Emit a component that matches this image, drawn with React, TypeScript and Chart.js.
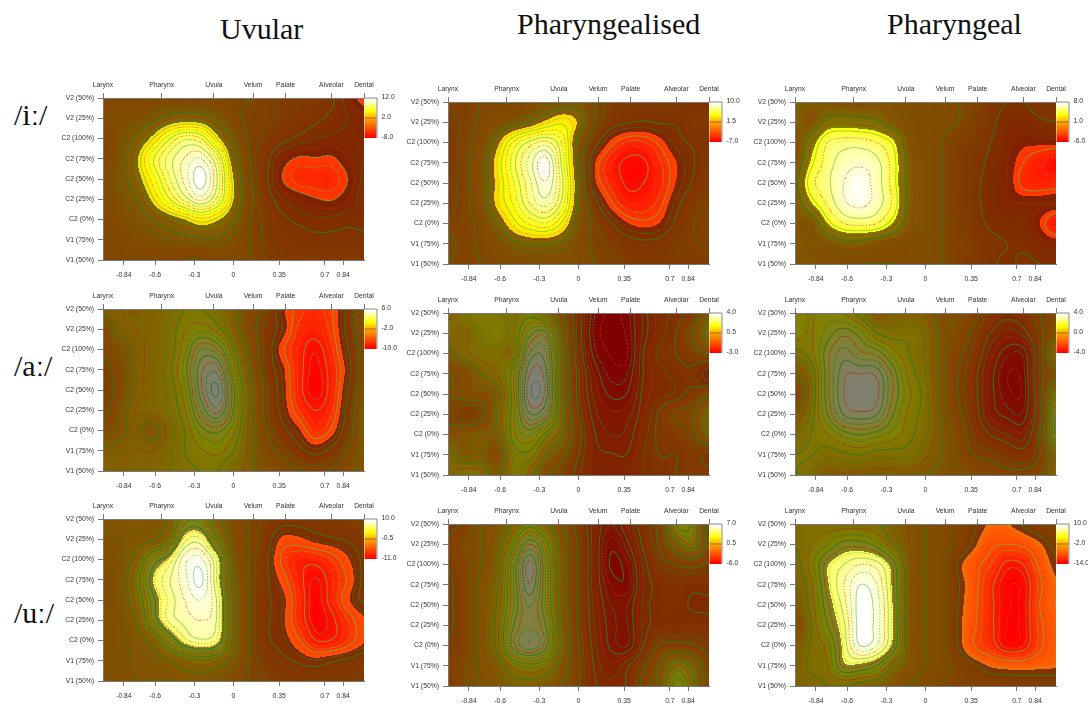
import React, { useEffect, useRef } from "react";
import { Chart, registerables } from "chart.js";

Chart.register(...registerables);

const xGrid = [-1, -0.875, -0.75, -0.625, -0.5, -0.375, -0.25, -0.125, 0, 0.125, 0.25, 0.375, 0.5, 0.625, 0.75, 0.875, 1];
const yGrid = [8, 7, 6, 5, 4, 3, 2, 1, 0];
const xTicks = [-0.84, -0.6, -0.3, 0, 0.35, 0.7, 0.84];
const topLabels = ["Larynx", "Pharynx", "Uvula", "Velum", "Palate", "Alveolar", "Dental"];
const topPositions = [-1, -0.55, -0.15, 0.15, 0.4, 0.75, 1];
const yLabels = ["V1 (50%)", "V1 (75%)", "C2 (0%)", "C2 (25%)", "C2 (50%)", "C2 (75%)", "C2 (100%)", "V2 (25%)", "V2 (50%)"];
const columnTitles = ["Uvular", "Pharyngealised", "Pharyngeal"];
const rowTitles = ["/iː/", "/aː/", "/uː/"];

const iUvular = [
  [0.5, 0.5, 0.5, 0.5, 0.5, 0.5, 0.5, 0.5, 0.3, 0, -0.5, -1, -1.2, -1.5, -2, -3.5, -5],
  [1, 1, 1.2, 1.8, 2.8, 3.2, 3, 2, 0.5, -0.3, -0.5, -1, -1.5, -2, -2.5, -3, -3.5],
  [0, 1.2, 2.5, 4.3, 6.5, 8, 7.5, 4.5, 1.8, -0.2, -1, -1.8, -2.5, -3, -3.2, -3.3, -3.5],
  [0.5, 1.5, 3.6, 6.5, 8.5, 9.8, 10.5, 8, 3, 0, -1.8, -3.8, -4.7, -4.6, -4.7, -3.8, -3],
  [1, 1.5, 3.2, 5.5, 8, 10, 11.7, 9, 4, 0.3, -2, -4.5, -5.6, -5.7, -5.8, -4.5, -2.8],
  [1, 1.3, 2.2, 4.2, 6.5, 8.5, 10, 8, 4, 0.5, -1.5, -3, -3.8, -4.4, -4.6, -3.8, -2.5],
  [0.5, 1, 1.5, 2.3, 3.2, 4, 5, 4.2, 2.5, 0, -1, -2, -2.5, -2.8, -2.8, -2.5, -2.5],
  [0.5, 0.5, 1, 1.2, 1.5, 1.8, 2, 2, 1.2, 0, -1, -1.5, -1.8, -2, -2, -2, -2],
  [0.3, 0.3, 0.5, 0.5, 0.2, 0, 0, 0.3, 0.5, 0, -0.8, -1.2, -1.5, -1.5, -1.5, -1.5, -1.5],
];
const iPharyngealised = [
  [-0.5, -0.5, 0, 0, 0, 0.5, 1, 1.5, 1.5, 0, -1, -1.2, -1.5, -1.5, -1.5, -2, -2],
  [-1, -0.5, 0.2, 0.8, 1.5, 2.2, 3.3, 4, 2.8, 0, -1.5, -2, -2.2, -2, -2, -1.5, -1.5],
  [-1.2, -0.3, 0.6, 2.6, 5, 6.5, 7.2, 5.5, 1.5, -1.5, -3.8, -5, -5, -3.9, -2.5, -2, -2],
  [-1.2, -0.3, 1, 3.5, 6, 8, 9.5, 6, 1.5, -3.4, -5.5, -6.6, -6.5, -5, -3.5, -2.2, -1.5],
  [-1, -0.3, 1, 3.3, 5.5, 7.5, 9, 6.5, 1.8, -3.2, -5.2, -6.5, -6.3, -5.2, -3.4, -2, -1.3],
  [-1, -0.3, 0.8, 3.3, 5, 7, 8, 6, 1.8, -1.5, -4, -5.5, -5.5, -4.5, -2.5, -1.2, -0.5],
  [-0.5, -0.2, 0.3, 2, 3.8, 5, 5.5, 4, 1.3, -0.5, -2, -3.4, -3.9, -3.4, -1.8, -0.8, 0],
  [0.3, -0.3, 0.2, 0.8, 1.8, 2.2, 2.2, 1.8, 0.8, -0.3, -1, -1.5, -1.8, -1.6, -1, -0.8, -0.5],
  [0, -0.3, 0, 0.3, 0.5, 0.8, 0.8, 0.8, 0.8, 0, -0.5, -1, -1.2, -1.2, -1, -1, -1],
];
const iPharyngeal = [
  [1.5, 1.2, 1, 0.8, 0.8, 0.8, 0.8, 0.5, 0.5, 0.3, 0, -0.5, -1.5, -2, -2, -1.5, -1.5],
  [1.5, 1, 2.6, 2.8, 2.6, 2.3, 1.2, 0.5, 0.3, 0.2, 0, -0.7, -1.7, -2.5, -2.7, -2.2, -2],
  [0.7, 2.8, 5, 5.5, 5.5, 5, 3.8, 1, 0.3, 0, -0.8, -1.2, -2, -2.8, -3.3, -3.3, -3.3],
  [1, 3.7, 5.5, 6.5, 6.8, 6.3, 4.5, 1.5, 0.5, 0, -1, -1.5, -2.3, -3, -4, -4.8, -5.5],
  [1.8, 4.6, 5.8, 7, 7.5, 6.5, 4.5, 1.5, 0.5, 0, -1, -1.7, -2.5, -3, -4.3, -4.6, -4.5],
  [1.2, 3.4, 5.2, 6.8, 7.3, 6.5, 4.8, 1.5, 0.5, 0, -1, -1.7, -2.5, -3, -3, -3, -3],
  [1, 1, 3.5, 5, 5.3, 5, 3.4, 1.2, 0.5, 0, -0.7, -1.5, -2.2, -2.5, -2.5, -3.5, -5],
  [1, 0.8, 1, 1.5, 1.5, 1, 0.5, 0.3, 0.3, 0, -0.7, -1.2, -1.7, -2, -2.2, -2.7, -3],
  [0.8, 0.8, 0.5, 0.3, 0, 0, 0, 0.3, 0.3, 0, -0.8, -1.2, -1.8, -2.2, -1.8, -2, -2.3],
];
const aUvular = [
  [-1.5, -1.2, -1.2, -1, -0.7, 0, 0, -0.5, -1.5, -3, -4, -6.3, -7.5, -8, -7.3, -5, -2.5],
  [-3, -1.5, -1.2, -1, -0.5, 0.5, 1, 0.3, -1.2, -3, -4.5, -6, -8, -8.5, -7.5, -5, -2.5],
  [-3.5, -2.5, -1.5, -1, -0.5, 1, 3, 2.5, 0, -2.5, -4.5, -7, -8.5, -9.5, -8, -5.5, -3],
  [-4, -3, -1.5, -1, -0.3, 1.5, 4, 4.5, 1, -2, -4.5, -6.2, -8.5, -9.8, -8.5, -6, -3],
  [-4.5, -3, -1.5, -1, -0.5, 1, 4, 5.5, 2, -1.5, -4, -6, -8.5, -10, -8.5, -5.5, -2.5],
  [-4, -2.5, -1.2, -1, -0.5, 0.5, 3, 4.5, 1.8, -1.5, -4, -5.8, -7.8, -9, -8, -5, -2],
  [-3, -2.2, -1.5, -2.2, -1, 0, 1.5, 2, 0.8, -1.5, -3.5, -5, -6.3, -8, -7, -4.5, -2],
  [-1.5, -1.5, -1.2, -1.2, -0.8, 0, 0.5, 0.8, 0, -1.5, -3, -4, -5, -5.8, -5, -3.5, -2],
  [-1, -1.2, -1, -1, -0.6, -0.2, 0, 0, -0.8, -1.5, -2.5, -3, -3.5, -3.8, -3.5, -2.8, -2],
];
const aPharyngealised = [
  [1, 1.3, 1.6, 1.4, 1.3, 1.5, 1, 0, -1.3, -2.7, -3, -2.8, -1.8, -1.2, -1, -0.5, 0.5],
  [1.2, 1, 1.4, 1.6, 1.3, 2.3, 2.5, 0.5, -1.3, -2.8, -3, -2.9, -1.8, -1.2, -0.8, 0, 1],
  [0.6, 1, 1.2, 1.2, 1.2, 3, 3, 0.8, -1.2, -2.6, -3, -3, -1.6, -1, -0.8, -0.4, 0],
  [0, 0.2, 0.8, 1.1, 1.8, 3.5, 3.3, 0.8, -1, -2.2, -2.8, -2.7, -1.6, -1.2, -1, -1, -2],
  [0, 0.2, 0.3, 0.6, 1.8, 3.7, 3.4, 0.8, -1, -2, -2.5, -2.4, -1.5, -1.2, -1, -0.6, -0.2],
  [-0.2, -0.5, -0.3, 0.8, 1.8, 3.2, 2.8, 0.9, -0.8, -1.8, -2.1, -2, -1.4, -0.7, -0.2, 0, 0.8],
  [0.3, 0.4, 0.6, 0.6, 1.8, 2.2, 1.5, 0.8, -0.6, -1.6, -1.9, -1.8, -1.2, -0.7, -0.5, -0.2, 0.8],
  [1, 0.5, 0.6, 0.2, 1.4, 1.5, 0.8, 0.2, -0.8, -1.5, -1.6, -1.6, -1.1, -0.8, -0.8, -0.5, -1],
  [1, 1.3, 1.2, 0.6, 1.4, 1, 0.2, -0.4, -1, -1.5, -1.5, -1.4, -1.1, -1, -0.8, -0.5, -0.5],
];
const aPharyngeal = [
  [1.5, 1.3, 1.5, 1.3, 0.8, 0.2, 0.4, 0.4, 0.3, -0.2, -0.4, -0.8, -1.5, -1.8, -1.6, -1, -0.5],
  [1.5, 1.3, 1.8, 2.2, 1.8, 1, 0.8, 0.9, 0.6, -0.2, -0.5, -1.2, -2, -2.5, -2.2, -1.2, -0.3],
  [0.8, 1.2, 2.2, 2.8, 2.4, 2.2, 1.5, 1, 0.6, -0.2, -0.8, -1.5, -2.5, -3.2, -3.2, -1.3, 0.8],
  [0, 0.7, 2.2, 3.2, 3.3, 3.2, 2.2, 1.2, 0.7, -0.2, -1, -1.8, -2.8, -3.6, -3.4, -1.3, -0.3],
  [-0.8, 0.6, 2.2, 3.3, 3.6, 3.4, 2.3, 1.4, 0.8, -0.2, -1, -1.8, -2.8, -3.5, -3.5, -1.3, 1],
  [0, 0.8, 2, 3, 3.2, 3, 2, 1.2, 0.8, -0.1, -0.8, -1.7, -2.7, -3.1, -3.2, -1.3, 2],
  [0.6, 1, 1.3, 1.8, 2, 1.8, 1.5, 1.1, 0.7, 0, -0.6, -1.4, -2, -2.3, -2.5, -1, 2],
  [1, 1, 0.8, 0.9, 1, 0.8, 0.8, 0.8, 0.4, 0, -0.5, -1, -1.2, -1.5, -1.7, -1, 0.5],
  [1, 0.7, 0.2, 0.3, 0.2, 0.2, 0.2, 0.2, 0, -0.1, -0.3, -0.5, -0.7, -0.8, -0.8, -0.5, 0.6],
];
const uUvular = [
  [-0.5, -0.5, -0.3, -0.5, 0, 3.5, 3.5, 0.5, -1.5, -2.5, -3.5, -4.2, -4.2, -4, -3.8, -3.5, -3],
  [-1, -0.8, -0.5, -0.2, 1.5, 6, 6.5, 2.5, -1.2, -2.5, -4, -6.3, -6.3, -5.5, -5, -4.6, -4],
  [-1.2, -1, 0.5, 3.8, 5.6, 8.5, 9, 6, -0.5, -2.5, -4.5, -7.5, -9, -9, -8, -6.2, -4.5],
  [-1.5, -1, 1.5, 5.2, 7, 8.5, 9.8, 6.2, 0, -2.5, -4.5, -6.5, -9, -10.5, -9, -7, -4.5],
  [-1.5, -1, 1, 4.3, 6.5, 8, 8.8, 7, 0.5, -2.5, -4.5, -5.5, -8.5, -10.8, -9, -6.3, -4.5],
  [-1.2, -1, 0, 3.8, 6.5, 7.5, 8, 7, 0.5, -2.5, -4.5, -5.7, -8.5, -10.8, -10, -8, -6.3],
  [-1.2, -1, -0.5, 0.5, 3.5, 6, 7, 6, 0.5, -2.5, -4.5, -5.3, -7, -9.5, -9.5, -8, -6.2],
  [-1, -1, -0.7, -0.5, 0, 1, 1.5, 1, -0.5, -2.5, -3.8, -4.5, -5, -5.5, -5, -4.5, -4],
  [-1, -1, -0.8, -0.8, -0.8, -0.5, -0.5, -1, -1.5, -2.5, -3.2, -3.5, -3.8, -3.8, -3.8, -3.8, -3.5],
];
const uPharyngealised = [
  [-1.8, -1, 0, 0.5, 1.5, 2.5, 1.5, 0, -1.8, -3.5, -4.5, -3.5, -2.2, -0.8, 2.8, 2.5, -0.8],
  [-1, -0.5, 0, 0.8, 2.5, 4.5, 3, 0.5, -1.5, -3.5, -5.2, -4.2, -2.5, -1.2, 0.8, 1.8, -0.5],
  [-1.3, -0.8, 0, 1, 3.5, 6, 3.5, 0.6, -1.5, -3.5, -5.5, -5, -3, -1.8, -1.3, -1, -1.5],
  [-1.5, -0.8, 0.2, 1.2, 3.5, 5.8, 3.5, 0.6, -1.5, -3.5, -5, -5.2, -3.2, -2.4, -2.2, -2.4, -2.4],
  [-1.5, -0.8, 0.2, 1.4, 3.5, 5, 3.5, 0.6, -1.5, -3.3, -4.5, -4.5, -3, -2.4, -2.4, -2.8, -2.8],
  [-1.5, -0.8, 0.2, 1.6, 4, 4.8, 4, 0.8, -1.5, -3.2, -4.3, -4.5, -3, -2.4, -2.4, -2.2, -2.4],
  [-1.2, -0.8, 0.3, 1.5, 4.3, 5.3, 4.2, 1, -1.3, -3, -4.2, -4.5, -2.7, -1.2, -1, -1.2, -1.8],
  [-1, -0.6, 0.2, 0.8, 2, 2.5, 2, 0.5, -1.2, -2.8, -3.5, -2.8, -1.5, 0, 1.8, 1, -1],
  [-1.2, -0.5, 0.2, 0.5, 1, 1, 0.8, 0, -1.3, -2.6, -3, -2.6, -1, 0.5, 3, 1.5, -0.5],
];
const uPharyngeal = [
  [0, 0.5, 0.5, 0.5, 0.5, 0.2, -1, -2, -3, -3.5, -4.5, -5.8, -7, -6.9, -5.8, -4.8, -4.5],
  [0, 1, 2, 3.5, 3.5, 2.5, 0, -2, -3, -3.5, -4.5, -6.5, -8.5, -9, -8.5, -7, -5.5],
  [-0.5, 1.5, 4.6, 6, 7, 6.5, 3.8, -1.5, -3, -3.5, -6.2, -8.3, -10, -12.5, -12, -8.5, -6.3],
  [-1, 0.8, 4.5, 7, 9, 8, 4.3, -1.5, -3, -3.5, -5.8, -8.3, -11.5, -13.8, -13.5, -9.5, -7],
  [-1.5, 0.5, 3.8, 6.5, 9.5, 8.5, 4.6, -1.5, -3, -3.5, -6, -8.5, -11.5, -13.8, -13.5, -9, -7],
  [-3, 0, 3, 5.8, 9.5, 8.5, 4.6, -1.5, -3, -3.5, -6.2, -8.7, -11.5, -14, -13.5, -9.5, -7.5],
  [-1.5, 0.2, 1.5, 5.3, 9, 8, 4.2, -1.5, -3, -3.5, -6, -9, -11, -13.5, -13, -9.5, -7.5],
  [-1, 0.3, 1, 4.3, 4.2, 3, 0, -2, -3, -3.5, -4.5, -5.8, -7, -7.5, -7.6, -7.2, -7],
  [-0.5, -0.5, 0, 0, -0.5, -1, -2, -3, -3.5, -4, -4.5, -4.5, -4.8, -5, -5, -5, -5],
];

const grids = [iUvular, iPharyngealised, iPharyngeal, aUvular, aPharyngealised, aPharyngeal, uUvular, uPharyngealised, uPharyngeal];
const legendMax = [12, 10, 8, 6, 4, 4, 10, 7, 10];
const legendMid = [2, 1.5, 1, -2, 0.5, 0, -0.5, 0.5, -2];
const legendMin = [-8, -7, -6, -10, -3, -4, -11, -6, -14];
const sigHigh = [4, 3, 3.5, 99, 99, 99, 5.4, 99, 4.7];
const sigLow = [-4.5, -3.5, -3.5, -6.5, -99, -99, -6, -99, -6.8];
const levelStep = [0.75, 0.7, 1, 0.6, 0.27, 0.33, 0.8, 0.45, 1];
const levelCycle = [3, 3, 2, 3, 3, 3, 3, 3, 3];

const plotLefts = [103, 448, 795, 103, 448, 795, 103, 448, 795];
const plotTops = [98, 102, 102, 309, 313, 313, 519, 524, 524];
const PW = 261;
const PH = 162;
const AXL = 46;
const AXT = 24;
const AXB = 26;
const AXR = 36;
const FONT = "Liberation Sans";

function heat(t: number): [number, number, number] {
  const c = Math.max(0, Math.min(1, t));
  const g = c < 0.5 ? c / 0.75 : 2 / 3 + ((c - 0.5) / 0.18) / 3;
  return [255, 255 * Math.min(g, 1), 255 * Math.min(Math.max((c - 0.68) / 0.3, 0), 1)];
}

function crWeights(f: number): number[] {
  const f2 = f * f;
  const f3 = f2 * f;
  return [-0.5 * f3 + f2 - 0.5 * f, 1.5 * f3 - 2.5 * f2 + 1, -1.5 * f3 + 2 * f2 + 0.5 * f, 0.5 * f3 - 0.5 * f2];
}

function surface(z: number[][], x: number, y: number): number {
  const nc = xGrid.length;
  const nr = yGrid.length;
  const u = Math.max(0, Math.min(nc - 1.0001, (x - xGrid[0]) / (xGrid[1] - xGrid[0])));
  const v = Math.max(0, Math.min(nr - 1.0001, (y - yGrid[0]) / (yGrid[1] - yGrid[0])));
  const i = Math.floor(u);
  const j = Math.floor(v);
  const wu = crWeights(u - i);
  const wv = crWeights(v - j);
  let s = 0;
  for (let b = 0; b < 4; b++) {
    const row = z[Math.max(0, Math.min(nr - 1, j + b - 1))];
    for (let a = 0; a < 4; a++) s += wv[b] * wu[a] * row[Math.max(0, Math.min(nc - 1, i + a - 1))];
  }
  return s;
}

const surfacePlugin = (p: number) => ({
  id: "surface" + p,
  beforeDraw(chart: any) {
    const ctx = chart.ctx;
    const area = chart.chartArea;
    const left = Math.round(area.left);
    const top = Math.round(area.top);
    const w = Math.round(area.right - area.left);
    const h = Math.round(area.bottom - area.top);
    const sx = chart.scales.x;
    const sy = chart.scales.y;
    const z: number[][] = [];
    const pts = chart.data.datasets[0].data;
    for (let r = 0; r < yGrid.length; r++) z.push(pts.slice(r * xGrid.length, (r + 1) * xGrid.length).map((d: any) => d.v));
    const fw = w + 2;
    const field = new Float32Array(fw * (h + 2));
    for (let j = 0; j < h + 2; j++) {
      const yv = sy.getValueForPixel(top + j - 0.5);
      for (let i = 0; i < fw; i++) field[j * fw + i] = surface(z, sx.getValueForPixel(left + i - 0.5), yv);
    }
    const img = ctx.createImageData(w, h);
    const lo = legendMin[p];
    const hi = legendMax[p];
    const step = levelStep[p];
    const cycle = levelCycle[p];
    for (let j = 0; j < h; j++) {
      for (let i = 0; i < w; i++) {
        const q = (j + 1) * fw + i + 1;
        const val = field[q];
        const sig = val >= sigHigh[p] || val <= sigLow[p];
        const col = heat((val - lo) / (hi - lo));
        const dim = sig ? 1 : 0.5;
        let r = col[0] * dim;
        let g = col[1] * dim;
        let b = col[2] * dim;
        const n = [field[q + 1], field[q - 1], field[q + fw], field[q - fw]];
        const gx = (n[0] - n[1]) / 2;
        const gy = (n[2] - n[3]) / 2;
        const grad = Math.hypot(gx, gy) + 1e-5;
        const idx = Math.round(val / step);
        const level = idx * step;
        const crosses = Math.min(val, ...n) <= level && Math.max(val, ...n) >= level;
        const dist = Math.abs(val - level) / grad;
        let a = crosses ? Math.max(0, Math.min(1, 1 - dist)) * (sig ? 0.65 : 1) : 0;
        if (a > 0) {
          const kind = cycle === 2 ? (idx % 2 === 0 ? 0 : 1) : ((idx % 3) + 3) % 3;
          if (kind !== 0 && (Math.floor(i / 1.5) + Math.floor(j / 1.5)) % 2 === 0) a *= 0.15;
          const line = kind === 1
            ? (sig ? [255, 80, 50] : [165, 45, 15])
            : sig ? [105, 190, 70] : [55, 115, 30];
          r += (line[0] - r) * a;
          g += (line[1] - g) * a;
          b += (line[2] - b) * a;
        }
        const o = (j * w + i) * 4;
        img.data[o] = r;
        img.data[o + 1] = g;
        img.data[o + 2] = b;
        img.data[o + 3] = 255;
      }
    }
    ctx.putImageData(img, left, top);
  },
  afterDraw(chart: any) {
    const ctx = chart.ctx;
    const area = chart.chartArea;
    const bx = area.right + 0.5;
    const bw = 12;
    const bh = 40;
    const by = area.top;
    for (let k = 0; k < bh; k++) {
      const c = heat(1 - k / (bh - 1));
      ctx.fillStyle = `rgb(${c[0]},${c[1]},${c[2]})`;
      ctx.fillRect(bx, by + k, bw, 1);
    }
    ctx.fillStyle = "#a36a10";
    ctx.fillRect(bx, by + bh / 2 - 0.5, bw, 1);
    ctx.strokeStyle = "#888";
    ctx.lineWidth = 1;
    ctx.beginPath();
    ctx.moveTo(bx, by);
    ctx.lineTo(bx + bw + 0.5, by);
    ctx.lineTo(bx + bw + 0.5, by + bh);
    ctx.stroke();
    ctx.fillStyle = "#333";
    ctx.font = `6.8px "${FONT}"`;
    ctx.textAlign = "left";
    ctx.textBaseline = "middle";
    const labels = [legendMax[p], legendMid[p], legendMin[p]];
    labels.forEach((t, n) => ctx.fillText(t.toFixed(1), bx + bw + 5, by + n * (bh / 2) - 1));
  },
});

function Panel({ p }: { p: number }) {
  const ref = useRef<HTMLCanvasElement>(null);
  useEffect(() => {
    const points: { x: number; y: number; v: number }[] = [];
    grids[p].forEach((row, r) => row.forEach((v, c) => points.push({ x: xGrid[c], y: yGrid[r], v })));
    const font = { family: FONT, size: 6.8 };
    const tickGrid = { display: true, drawOnChartArea: false, drawTicks: true, tickColor: "#555", tickWidth: 0.8 };
    const border = { display: true, color: "#777", width: 1 };
    const chart = new Chart(ref.current as HTMLCanvasElement, {
      type: "scatter",
      data: { datasets: [{ data: points, pointRadius: 0, showLine: false }] },
      plugins: [surfacePlugin(p)],
      options: {
        animation: false,
        responsive: false,
        events: [],
        layout: { padding: { left: 0, top: 0, right: AXR, bottom: 0 } },
        plugins: { legend: { display: false }, tooltip: { enabled: false } },
        scales: {
          x: {
            type: "linear",
            position: "bottom",
            min: -1,
            max: 1,
            afterBuildTicks: (s: any) => { s.ticks = xTicks.map((value) => ({ value })); },
            afterFit: (s: any) => { s.height = AXB; },
            ticks: { font, color: "#333", padding: 6, autoSkip: false, maxRotation: 0, callback: (v: any) => String(v) },
            grid: { ...tickGrid, tickLength: 5 },
            border,
          },
          x2: {
            type: "linear",
            axis: "x",
            position: "top",
            min: -1,
            max: 1,
            afterBuildTicks: (s: any) => { s.ticks = topPositions.map((value) => ({ value })); },
            afterFit: (s: any) => { s.height = AXT; },
            ticks: { font, color: "#333", padding: 4, autoSkip: false, maxRotation: 0, callback: (v: any) => topLabels[topPositions.indexOf(v)] },
            grid: { ...tickGrid, tickLength: 5 },
            border,
          },
          y: {
            type: "linear",
            min: 0,
            max: 8,
            afterBuildTicks: (s: any) => { s.ticks = yLabels.map((_, value) => ({ value })); },
            afterFit: (s: any) => { s.width = AXL; },
            ticks: { font, color: "#333", padding: 4, autoSkip: false, callback: (v: any) => yLabels[v] },
            grid: { ...tickGrid, tickLength: 5 },
            border,
          },
        },
      } as any,
    } as any);
    return () => chart.destroy();
  }, [p]);
  return (
    <canvas
      ref={ref}
      width={AXL + PW + AXR}
      height={AXT + PH + AXB}
      style={{ position: "absolute", left: plotLefts[p] - AXL, top: plotTops[p] - AXT, width: AXL + PW + AXR, height: AXT + PH + AXB }}
    />
  );
}

const titleStyle: React.CSSProperties = {
  position: "absolute",
  fontFamily: '"Liberation Serif", serif',
  fontSize: 30,
  lineHeight: "30px",
  color: "#111",
  whiteSpace: "nowrap",
};
const titleLefts = [220, 517, 887];
const titleTops = [14, 9, 9];
const rowTop = [100, 351, 598];

export default function App() {
  return (
    <div style={{ position: "absolute", left: 0, top: 0, width: 1088, height: 704, overflow: "hidden", background: "#fff", filter: "blur(0.4px)" }}>
      {columnTitles.map((t, i) => (
        <div key={t} style={{ ...titleStyle, left: titleLefts[i], top: titleTops[i] }}>{t}</div>
      ))}
      {rowTitles.map((t, i) => (
        <div key={t} style={{ ...titleStyle, left: 14, top: rowTop[i] }}>{t}</div>
      ))}
      {grids.map((_, p) => <Panel key={p} p={p} />)}
    </div>
  );
}
